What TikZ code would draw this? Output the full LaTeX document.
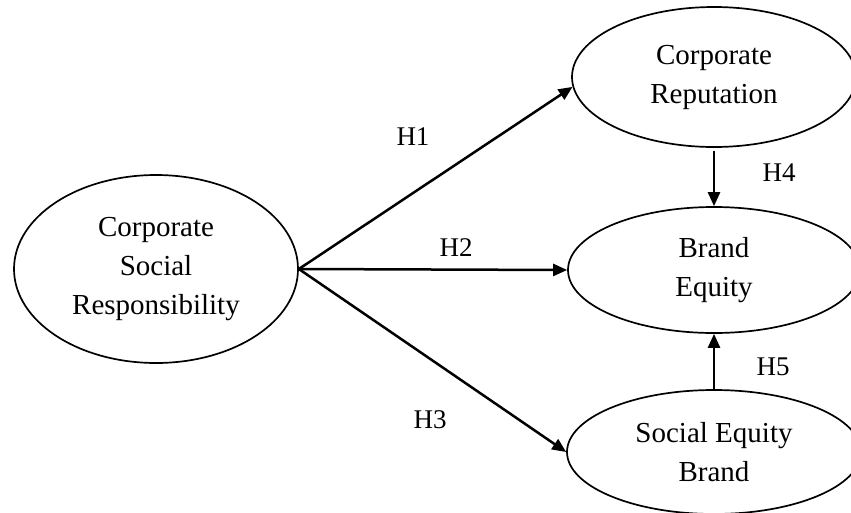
\documentclass[tikz,border=0pt]{standalone}
\usepackage{fontspec}
\setmainfont{Liberation Serif}
\usetikzlibrary{shapes.geometric,arrows.meta}
\begin{document}
\begin{tikzpicture}[x=1pt,y=-1pt,
  construct/.style={draw, ellipse, line width=1.7pt, inner sep=0pt, align=center,
    font=\fontsize{29}{39}\selectfont},
  path/.style={line width=2.5pt, -{Triangle[length=14pt,width=12pt]}},
  hyp/.style={font=\fontsize{27}{30}\selectfont}]
  \useasboundingbox (0,0) rectangle (851,512);
  \clip (0,0) rectangle (851,512);

  % latent constructs
  \node[construct, minimum width=284pt, minimum height=188pt] (csr) at (156,269)
    {Corporate\\Social\\Responsibility};
  \node[construct, minimum width=284pt, minimum height=140pt] (cr) at (714,77)
    {Corporate\\Reputation};
  \node[construct, minimum width=292pt, minimum height=126pt] (be) at (714,270)
    {Brand\\Equity};
  \node[construct, minimum width=294pt, minimum height=124pt] (seb) at (714,452)
    {Social Equity\\Brand};

  % hypothesised paths
  \draw[path] (csr.east) -- (cr.184);
  \draw[path] (csr.east) -- (be.west);
  \draw[path] (csr.east) -- (seb.west);
  \draw[path, shorten <=3pt] (cr.south) -- (be.north);
  \draw[path] (seb.north) -- (be.south);

  % hypothesis labels
  \node[hyp] (h1) at (413,137) {H1};
  \node[hyp] (h2) at (456,248) {H2};
  \node[hyp] (h3) at (430,420) {H3};
  \node[hyp] (h4) at (779,173) {H4};
  \node[hyp] (h5) at (773,367) {H5};
\end{tikzpicture}
\end{document}
